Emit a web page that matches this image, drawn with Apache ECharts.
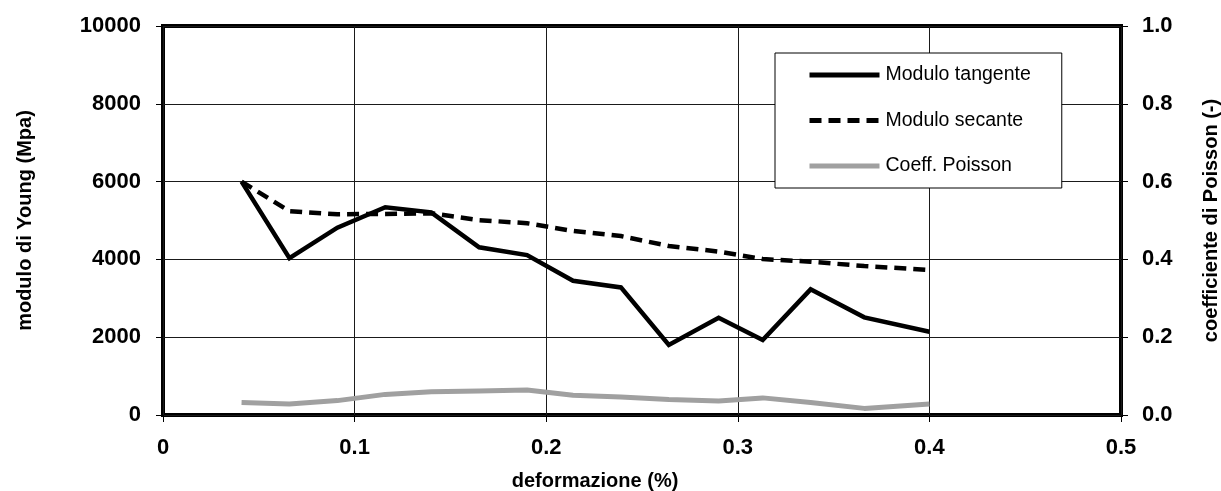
<!DOCTYPE html>
<html>
<head>
<meta charset="utf-8">
<script src="https://cdn.jsdelivr.net/npm/echarts@6/dist/echarts.min.js"></script>
<style>
html,body{margin:0;padding:0;background:#fff;}
#chart{width:1221px;height:491px;}
</style>
</head>
<body>
<div id="chart"></div>
<script>
// deformation (%) at each measurement
const deformazione = [0.041, 0.066, 0.091, 0.116, 0.140, 0.165, 0.190, 0.214, 0.239, 0.264, 0.290, 0.313, 0.338, 0.366, 0.400];
// Young modulus (MPa)
const moduloTangente = [6000, 4030, 4815, 5340, 5210, 4310, 4110, 3450, 3280, 1800, 2500, 1930, 3230, 2510, 2140];
const moduloSecante  = [6000, 5240, 5160, 5170, 5185, 5010, 4930, 4730, 4600, 4345, 4200, 4010, 3940, 3830, 3730];
// Poisson coefficient (-)
const coeffPoisson   = [0.032, 0.028, 0.037, 0.053, 0.060, 0.062, 0.064, 0.051, 0.046, 0.040, 0.036, 0.044, 0.032, 0.017, 0.028];

const seriesNames = ['Modulo tangente', 'Modulo secante', 'Coeff. Poisson'];
const xTitle = 'deformazione (%)';
const yLeftTitle = 'modulo di Young (Mpa)';
const yRightTitle = 'coefficiente di Poisson (-)';

const pair = (xs, ys) => xs.map((x, i) => [x, ys[i]]);
const FONT = "'Liberation Sans', Arial, sans-serif";

const chart = echarts.init(document.getElementById('chart'), null, {renderer: 'canvas'});
chart.setOption({
  animation: false,
  backgroundColor: '#fff',
  textStyle: {fontFamily: FONT},
  grid: {
    left: 163, right: 100, top: 26, bottom: 76,
    outerBoundsMode: 'none', containLabel: false,
    show: true, borderColor: '#000', borderWidth: 4, backgroundColor: 'transparent'
  },
  legend: {
    left: 775, top: 53,
    orient: 'vertical',
    backgroundColor: '#fff',
    borderColor: '#000', borderWidth: 1, borderRadius: 0,
    padding: [12, 31, 12, 32],
    itemWidth: 70, itemHeight: 14, itemGap: 25.5,
    lineStyle: {width: 5},
    itemStyle: {opacity: 0},
    textStyle: {fontFamily: FONT, fontSize: 19.5, color: '#000', padding: [0, 0, 0, 1]},
    data: seriesNames
  },
  xAxis: {
    type: 'value', min: 0, max: 0.5, interval: 0.1,
    name: xTitle, nameLocation: 'middle', nameGap: 56,
    nameTextStyle: {fontFamily: FONT, fontSize: 20, fontWeight: 'bold', color: '#000', padding: [0, 94, 0, 0]},
    axisLine: {show: false},
    axisTick: {show: true, inside: false, length: 7, lineStyle: {color: '#000', width: 1}},
    axisLabel: {margin: 22, fontFamily: FONT, fontSize: 22, fontWeight: 'bold', color: '#000',
      formatter: v => String(+v.toFixed(1))},
    splitLine: {show: true, lineStyle: {color: '#1a1a1a', width: 1}}
  },
  yAxis: [{
    type: 'value', min: 0, max: 10000, interval: 2000, position: 'left',
    name: yLeftTitle, nameLocation: 'middle', nameGap: 128,
    nameTextStyle: {fontFamily: FONT, fontSize: 20, fontWeight: 'bold', color: '#000'},
    axisLine: {show: false},
    axisTick: {show: true, inside: false, length: 7, lineStyle: {color: '#000', width: 1}},
    axisLabel: {margin: 22, fontFamily: FONT, fontSize: 22, fontWeight: 'bold', color: '#000',
      formatter: v => String(Math.round(v))},
    splitLine: {show: true, lineStyle: {color: '#1a1a1a', width: 1}}
  }, {
    type: 'value', min: 0, max: 1, interval: 0.2, position: 'right',
    name: yRightTitle, nameLocation: 'middle', nameGap: 80, nameRotate: 90,
    nameTextStyle: {fontFamily: FONT, fontSize: 20, fontWeight: 'bold', color: '#000'},
    axisLine: {show: false},
    axisTick: {show: true, inside: false, length: 7, lineStyle: {color: '#000', width: 1}},
    axisLabel: {margin: 21, fontFamily: FONT, fontSize: 22, fontWeight: 'bold', color: '#000',
      formatter: v => v.toFixed(1)},
    splitLine: {show: false}
  }],
  series: [{
    name: seriesNames[0], type: 'line', yAxisIndex: 0,
    data: pair(deformazione, moduloTangente),
    symbol: 'none', z: 4,
    lineStyle: {color: '#000', width: 4.5, type: 'solid', join: 'miter'},
    itemStyle: {color: '#000'}
  }, {
    name: seriesNames[1], type: 'line', yAxisIndex: 0,
    data: pair(deformazione, moduloSecante),
    symbol: 'none', z: 3,
    lineStyle: {color: '#000', width: 4.5, type: [12, 7]},
    itemStyle: {color: '#000'}
  }, {
    name: seriesNames[2], type: 'line', yAxisIndex: 1,
    data: pair(deformazione, coeffPoisson),
    symbol: 'none', z: 2,
    lineStyle: {color: '#a0a0a0', width: 5},
    itemStyle: {color: '#a0a0a0'}
  }]
});
</script>
</body>
</html>
